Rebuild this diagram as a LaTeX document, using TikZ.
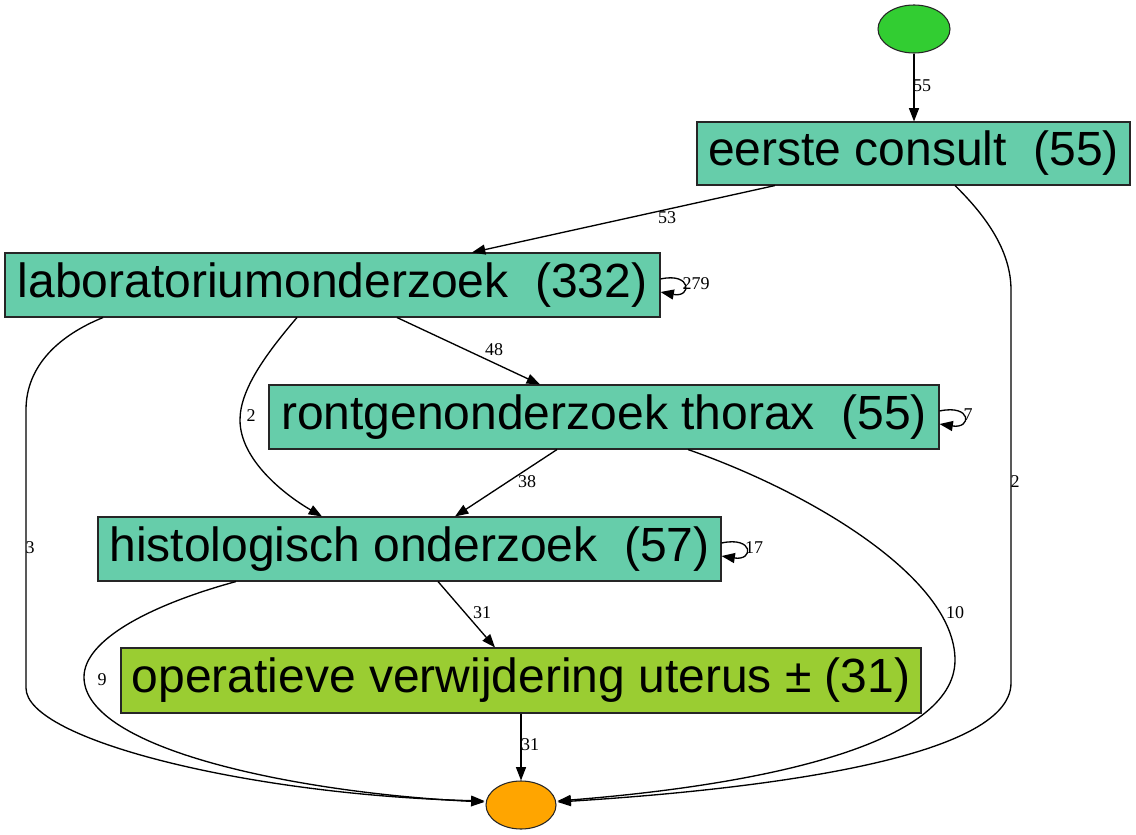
\documentclass[tikz,border=0pt]{standalone}
\usepackage{fontspec}
\setmainfont{Liberation Sans}
\newfontfamily\lblfont{Liberation Serif}
\usetikzlibrary{arrows.meta,calc,shapes.geometric}
\definecolor{aqua}{RGB}{102,205,170}
\definecolor{ygreen}{RGB}{154,205,50}
\definecolor{lgreen}{RGB}{50,205,50}
\definecolor{orng}{RGB}{255,165,0}
\newlength\pxl
\setlength\pxl{0.75pt}
\tikzset{
  box/.style={draw=black!85, line width=0.8pt, rectangle, inner sep=0pt,
    font=\fontsize{36}{43}\selectfont},
  term/.style={draw=black!85, line width=0.8pt, ellipse, inner sep=0pt},
  edge/.style={draw=black, line width=1pt, -{Triangle[length=10pt,width=7.5pt]}},
  lbl/.style={inner sep=0pt, font=\lblfont\fontsize{13.5}{15}\selectfont}
}
\begin{document}
\begin{tikzpicture}[x=0.75pt,y=-0.75pt]
\fill[white] (0,0) rectangle (1136,835);
\useasboundingbox (0,0) rectangle (1136,835);

% nodes
\node[term, fill=lgreen, minimum width=72\pxl, minimum height=48\pxl] (s) at (914,29) {};
\node[box, fill=aqua, minimum width=433\pxl, minimum height=63\pxl] (ec) at (913.5,153.5) {eerste consult~~(55)};
\node[box, fill=aqua, minimum width=655\pxl, minimum height=64\pxl] (lab) at (332.5,285) {laboratoriumonderzoek~~(332)};
\node[box, fill=aqua, minimum width=670\pxl, minimum height=64\pxl] (ront) at (604,417) {rontgenonderzoek thorax~~(55)};
\node[box, fill=aqua, minimum width=623\pxl, minimum height=64\pxl] (hist) at (409.5,549) {histologisch onderzoek~~(57)};
\node[box, fill=ygreen, minimum width=800\pxl, minimum height=65\pxl] (op) at (521,680.5) {operatieve verwijdering uterus ± (31)};
\node[term, fill=orng, minimum width=70\pxl, minimum height=48\pxl] (en) at (521,805) {};

% edges
\draw[edge] (s.south) -- (s.south |- ec.north);
\draw[edge] ($(ec.south)+(-138.5,0)$) -- ($(lab.north)+(139.5,0)$);
\draw[edge] ($(ec.south)+(41.5,0)$) .. controls (985,215) and (1011,250) .. (1011,290)
  -- (1011,683) .. controls (1011,760) and (750,790) .. ($(en.east)+(1,-3)$);
\draw[edge] ($(lab.east)+(0,-6)$) .. controls (692,272) and (692,298) .. ($(lab.east)+(0,7)$);
\draw[edge] ($(lab.south)+(64.5,0)$) -- ($(ront.north)+(-64,0)$);
\draw[edge] ($(lab.south)+(-35.5,0)$) .. controls (265,355) and (240,390) .. (240,420)
  .. controls (240,460) and (285,495) .. ($(hist.north)+(-87.5,0)$);
\draw[edge] ($(lab.south)+(-229.5,0)$) .. controls (60,335) and (26,365) .. (26,410)
  -- (26,688) .. controls (26,740) and (250,795) .. ($(en.west)+(-1,-4)$);
\draw[edge] ($(ront.east)+(0,-6)$) .. controls (972,404) and (972,429) .. ($(ront.east)+(0,7)$);
\draw[edge] ($(ront.south)+(-47,0)$) -- ($(hist.north)+(45.5,0)$);
\draw[edge] ($(ront.south)+(84,0)$) .. controls (810,492) and (955,578) .. (955,660)
  .. controls (955,745) and (760,785) .. ($(en.east)+(1,-4)$);
\draw[edge] ($(hist.east)+(0,-6)$) .. controls (754,536) and (754,561) .. ($(hist.east)+(0,7)$);
\draw[edge] ($(hist.south)+(28.5,0)$) -- ($(op.north)+(-26,0)$);
\draw[edge] ($(hist.south)+(-173.5,0)$) .. controls (150,605) and (84,640) .. (84,677)
  .. controls (84,750) and (300,793) .. ($(en.west)+(-1,-3)$);
\draw[edge] (op.south) -- (en.north);

% labels
\node[lbl] (l1) at (922,86) {55};
\node[lbl] (l2) at (667,218) {53};
\node[lbl] (l3) at (1015,482) {2};
\node[lbl] (l4) at (696,284) {279};
\node[lbl] (l5) at (494,350) {48};
\node[lbl] (l6) at (251,416) {2};
\node[lbl] (l7) at (30,548) {3};
\node[lbl] (l8) at (968,415) {7};
\node[lbl] (l9) at (527,482) {38};
\node[lbl] (l10) at (955,613) {10};
\node[lbl] (l11) at (754,548) {17};
\node[lbl] (l12) at (482,613) {31};
\node[lbl] (l13) at (102,680) {9};
\node[lbl] (l14) at (530,745) {31};
\end{tikzpicture}
\end{document}
